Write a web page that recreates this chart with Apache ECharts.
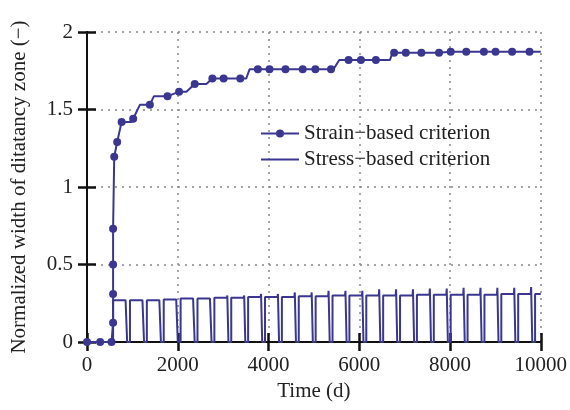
<!DOCTYPE html>
<html>
<head>
<meta charset="utf-8">
<script src="https://cdn.jsdelivr.net/npm/echarts@6/dist/echarts.min.js"></script>
<style>
  html, body { margin: 0; padding: 0; background: #fff; }
  #chart { width: 570px; height: 410px; }
</style>
</head>
<body>
<div id="chart"></div>
<script>
// Strain-based criterion: vertices of the stepped curve (mark = 1 draws a dot)
const strainX = [0, 290, 540, 575, 575, 575, 575, 600, 665, 763, 982, 1018, 1165, 1385, 1473, 1774, 2029, 2191, 2374, 2631, 2763, 3011, 3378, 3510, 3582, 3765, 4022, 4374, 4754, 5033, 5378, 5430, 5560, 5765, 6037, 6367, 6675, 6732, 6769, 7026, 7369, 7758, 8015, 8358, 8747, 9004, 9369, 9752, 10000]
const strainY = [0, 0, 0, 0.125, 0.31, 0.5, 0.73, 1.195, 1.29, 1.42, 1.42, 1.44, 1.53, 1.53, 1.585, 1.585, 1.615, 1.615, 1.665, 1.665, 1.70, 1.70, 1.70, 1.70, 1.759, 1.759, 1.759, 1.759, 1.759, 1.759, 1.759, 1.759, 1.819, 1.819, 1.819, 1.819, 1.819, 1.866, 1.866, 1.866, 1.866, 1.866, 1.873, 1.873, 1.873, 1.873, 1.873, 1.873, 1.873]
const strainMark = [1, 1, 1, 1, 1, 1, 1, 1, 1, 1, 0, 1, 0, 1, 0, 1, 1, 0, 1, 0, 1, 1, 1, 0, 0, 1, 1, 1, 1, 1, 1, 0, 0, 1, 1, 1, 0, 0, 1, 1, 1, 1, 1, 1, 1, 1, 1, 1, 0]

// Stress-based criterion: one entry per pulse
const stressStart = [575, 947, 1319, 1691, 2063, 2435, 2807, 3179, 3551, 3923, 4295, 4667, 5039, 5411, 5783, 6155, 6527, 6899, 7271, 7643, 8015, 8387, 8759, 9131, 9503, 9875]
const stressFall = [850, 1222, 1594, 1966, 2338, 2710, 3082, 3454, 3826, 4198, 4570, 4942, 5314, 5686, 6058, 6430, 6802, 7174, 7546, 7918, 8290, 8662, 9034, 9406, 9778, 10000]
const stressLevel = [0.27, 0.27, 0.27, 0.275, 0.28, 0.28, 0.285, 0.285, 0.29, 0.29, 0.29, 0.295, 0.295, 0.30, 0.30, 0.30, 0.30, 0.30, 0.305, 0.305, 0.305, 0.305, 0.305, 0.31, 0.31, 0.31]
const stressPeak = [0.27, 0.27, 0.275, 0.28, 0.29, 0.29, 0.30, 0.30, 0.31, 0.31, 0.32, 0.32, 0.33, 0.33, 0.33, 0.34, 0.34, 0.34, 0.345, 0.345, 0.35, 0.35, 0.35, 0.35, 0.355, 0.31]

const xTicks = { min: 0, max: 10000, interval: 2000 }
const yTicks = { min: 0, max: 2, interval: 0.5 }

const lineColor = '#3b3791'
const font = 'Liberation Serif'

const strainData = strainX.map((x, i) => {
  const item = { value: [x, strainY[i]] }
  if (!strainMark[i]) item.symbol = 'none'
  return item
})

const stressData = [[0, 0], [stressStart[0], 0]]
stressStart.forEach((s, i) => {
  stressData.push([s, stressLevel[i]])
  stressData.push([stressFall[i], stressLevel[i]])
  if (stressFall[i] < 10000) {
    stressData.push([stressFall[i] + 10, stressPeak[i]])
    stressData.push([stressFall[i] + 35, 0])
    stressData.push([stressStart[i + 1] || 10000, 0])
  }
})

const chart = echarts.init(document.getElementById('chart'), null, { renderer: 'canvas' })

const gridLine = { show: true, lineStyle: { color: '#888', width: 1.5, type: [2, 5] } }
const frame = { show: true, lineStyle: { color: '#111', width: 2 } }
const tickIn = { show: true, inside: true, length: 9, lineStyle: { color: '#111', width: 2.5 } }
const labelStyle = { color: '#222', fontFamily: font, fontSize: 21 }

chart.setOption({
  animation: false,
  backgroundColor: '#fff',
  grid: { left: 87, right: 28, top: 32, bottom: 68 },
  legend: {
    orient: 'vertical',
    left: 255,
    top: 118,
    itemWidth: 38,
    itemHeight: 10,
    itemGap: 5,
    textStyle: { fontFamily: font, fontSize: 21, color: '#222', lineHeight: 19 },
    data: [
      { name: 'Strain\u2212based criterion' },
      { name: 'Stress\u2212based criterion', icon: 'path://M0,0 L38,0 L38,2 L0,2 Z' }
    ]
  },
  xAxis: [
    {
      type: 'value', ...xTicks,
      name: 'Time (d)', nameLocation: 'middle', nameGap: 39,
      nameTextStyle: labelStyle,
      axisLine: frame, axisTick: tickIn, splitLine: gridLine,
      axisLabel: { ...labelStyle, margin: 13, formatter: (v) => String(v) }
    },
    {
      type: 'value', ...xTicks, position: 'top',
      axisLine: frame, axisTick: tickIn, splitLine: { show: false },
      axisLabel: { show: false }
    }
  ],
  yAxis: [
    {
      type: 'value', ...yTicks,
      name: 'Normalized width of ditatancy zone (\u2212)', nameLocation: 'middle', nameGap: 57,
      nameRotate: 90,
      nameTextStyle: labelStyle,
      axisLine: frame, axisTick: tickIn, splitLine: gridLine,
      axisLabel: { ...labelStyle, margin: 14 }
    },
    {
      type: 'value', ...yTicks, position: 'right',
      axisLine: frame, axisTick: tickIn, splitLine: { show: false },
      axisLabel: { show: false }
    }
  ],
  series: [
    {
      name: 'Stress\u2212based criterion',
      type: 'line',
      data: stressData,
      showSymbol: false,
      symbol: 'none',
      lineStyle: { color: lineColor, width: 2 },
      itemStyle: { color: lineColor },
      z: 3
    },
    {
      name: 'Strain\u2212based criterion',
      type: 'line',
      data: strainData,
      symbol: 'circle',
      symbolSize: 8,
      lineStyle: { color: lineColor, width: 2 },
      itemStyle: { color: lineColor },
      z: 4
    }
  ]
})
</script>
</body>
</html>
